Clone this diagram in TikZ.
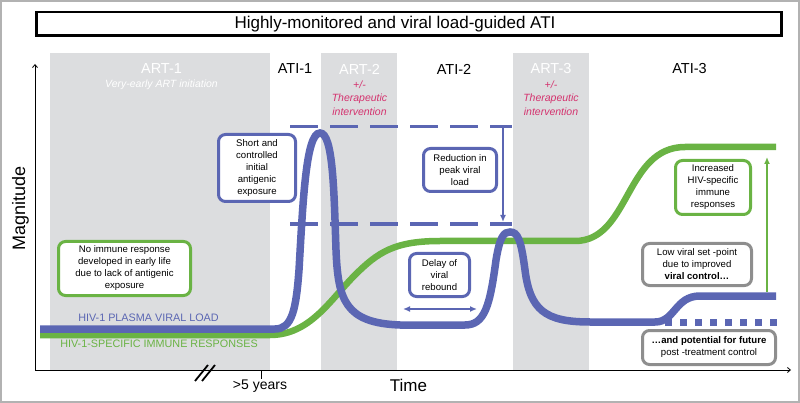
\documentclass[tikz,border=0pt]{standalone}
\usepackage{fontspec}
\setmainfont{Liberation Sans}
\usepackage{xcolor}
\usepackage{tikz}
\usetikzlibrary{arrows.meta,positioning}
\definecolor{azulCV}{HTML}{5B66B3}
\definecolor{verdeRI}{HTML}{6AB344}
\definecolor{cinzaART}{HTML}{DCDDDF}
\definecolor{cinzaCaixa}{HTML}{8E8E8E}
\definecolor{rosaTexto}{HTML}{D4326E}
\tikzset{
    fase/.style={font=\fontsize{14.5}{16}\selectfont, inner sep=0pt},
    faseART/.style={fase, text=white},
    nota/.style={
        font=\fontsize{10.5}{13.5}\selectfont\itshape,
        align=center,
        inner sep=0pt
    },
    caixa/.style={
        rectangle,
        draw,
        line width=3pt,
        rounded corners=7pt,
        fill=white,
        align=center,
        inner sep=0pt,
        font=\fontsize{9.6}{12}\selectfont
    },
    caixaAzul/.style={caixa, draw=azulCV},
    caixaVerde/.style={caixa, draw=verdeRI},
    caixaCinza/.style={caixa, draw=cinzaCaixa},
    rotulo/.style={font=\fontsize{10.8}{12}\selectfont, inner sep=0pt},
    eixo/.style={line width=0.8pt, -{Straight Barb[length=3pt,width=5pt]}},
    tracejado/.style={azulCV, line width=3.5pt, dash pattern=on 28pt off 12pt},
    seta/.style={line width=1.6pt, -{Latex[length=7pt,width=6pt]}},
    curva/.style={line width=7.5pt}
}

\begin{document}
\begin{tikzpicture}[x=1pt, y=-1pt, node distance=6pt]
    \useasboundingbox (0,0) rectangle (800,403);
    \draw[gray!60, line width=1.5pt] (1,1) rectangle (799,402);

    % titulo
    \node[draw, line width=2.5pt, minimum width=745pt, minimum height=23.5pt] (caixaTitulo) at (409,24) {};
    \node[font=\fontsize{17}{20}\selectfont, inner sep=0pt] (titulo) at (395,24.5)
        {Highly-monitored and viral load-guided ATI};

    % faixas ART
    \fill[cinzaART] (50,53) rectangle (270,370);
    \fill[cinzaART] (321,53) rectangle (397,370);
    \fill[cinzaART] (513,53) rectangle (589,370);

    % fases
    \node[faseART] (art1) at (161.5,69) {ART-1};
    \node[nota, text=white, below=5.5pt of art1] (inicio) {Very-early ART initiation};
    \node[fase] (ati1) at (295,69) {ATI-1};
    \node[faseART] (art2) at (359.5,69) {ART-2};
    \node[nota, text=rosaTexto, below=of art2] (interv2) {+/-\\Therapeutic\\intervention};
    \node[fase] (ati2) at (454,69) {ATI-2};
    \node[faseART] (art3) at (551,69) {ART-3};
    \node[nota, text=rosaTexto, below=of art3] (interv3) {+/-\\Therapeutic\\intervention};
    \node[fase] (ati3) at (689.5,69) {ATI-3};

    % eixos
    \coordinate (origem) at (35,370);
    \coordinate (topoY) at (35,64);
    \coordinate (fimX) at (791,370);
    \draw[eixo] (origem) -- (topoY);
    \draw[eixo] (origem) -- (fimX);
    \node[rotate=90, font=\fontsize{18}{20}\selectfont, inner sep=0pt] (magnitude) at (20.5,208.5) {Magnitude};
    \node[font=\fontsize{17}{20}\selectfont, inner sep=0pt] (tempo) at (408.5,385) {Time};
    \draw[line width=1.8pt] (195,381) -- (208,365);
    \draw[line width=1.8pt] (202,381) -- (215,365);
    \coordinate (marca) at (261,370);
    \draw[line width=1pt] (marca) -- ++(0,9);
    \node[font=\fontsize{14}{16}\selectfont, inner sep=0pt] (anos) at (260,386) {>5 years};

    % linhas tracejadas
    \draw[tracejado] (290,126.5) -- (512,126.5);
    \draw[tracejado] (290,224) -- (512,224);

    % resposta imune
    \draw[curva, verdeRI, line width=6.5pt]
        (40,335) -- (270,335)
        .. controls (310,335) and (330,300) .. (355,275)
        .. controls (378,252) and (395,241) .. (440,241) -- (575,241)
        .. controls (630,241) and (625,147) .. (685,147) -- (776,147);

    % carga viral
    \draw[curva, azulCV]
        (40,329) -- (275,329)
        .. controls (292,329) and (296,310) .. (299,270)
        .. controls (303,200) and (306,133) .. (320,133)
        .. controls (333,133) and (334,190) .. (336,250)
        .. controls (338,300) and (345,323) .. (400,325) -- (465,325)
        .. controls (485,325) and (490,305) .. (496,260)
        .. controls (500,236) and (504,232) .. (510,232)
        .. controls (518,232) and (521,240) .. (525,270)
        .. controls (530,310) and (545,322) .. (590,322) -- (655,322)
        .. controls (675,322) and (675,296) .. (700,296) -- (776,296);
    \draw[azulCV, line width=7pt, dash pattern=on 7pt off 8pt] (665,322) -- (777,322);

    \node[rotulo, text=azulCV] (rotuloCV) at (148.5,317.5) {HIV-1 PLASMA VIRAL LOAD};
    \node[rotulo, text=verdeRI] (rotuloRI) at (159,344) {HIV-1-SPECIFIC IMMUNE RESPONSES};

    % setas
    \coordinate (picoAlto) at (503,127.5);
    \coordinate (picoBaixo) at (503,222);
    \draw[seta, azulCV] (picoAlto) -- (picoBaixo);
    \coordinate (atrasoIni) at (403,309);
    \coordinate (atrasoFim) at (477,309);
    \draw[seta, azulCV, {Latex[length=7pt,width=6pt]}-{Latex[length=7pt,width=6pt]}] (atrasoIni) -- (atrasoFim);
    \coordinate (setpointTopo) at (767,292);
    \coordinate (imuneBase) at (767,157);
    \draw[seta, verdeRI] (setpointTopo) -- (imuneBase);

    % caixas
    \node[caixaVerde, minimum width=132pt, minimum height=54pt] (semResposta) at (124.5,268.5)
        {No immune response\\developed in early life\\due to lack of antigenic\\exposure};
    \node[caixaAzul, minimum width=77pt, minimum height=67pt] (exposicao) at (257,168)
        {Short and\\controlled\\initial\\antigenic\\exposure};
    \node[caixaAzul, minimum width=73pt, minimum height=43pt] (reducao) at (460,170)
        {Reduction in\\peak viral\\load};
    \node[caixaAzul, minimum width=60pt, minimum height=43pt] (atraso) at (439.5,275)
        {Delay of\\viral\\rebound};
    \node[caixaVerde, minimum width=75pt, minimum height=54pt] (aumento) at (713,187.5)
        {Increased\\HIV-specific\\immune\\responses};
    \node[caixaCinza, minimum width=109pt, minimum height=42pt] (setpoint) at (697,264.5)
        {Low viral set -point\\due to improved\\\textbf{viral control…}};
    \node[caixaCinza, minimum width=133pt, minimum height=34pt] (potencial) at (709,347.5)
        {\textbf{…and potential for future}\\post -treatment control};
\end{tikzpicture}
\end{document}
